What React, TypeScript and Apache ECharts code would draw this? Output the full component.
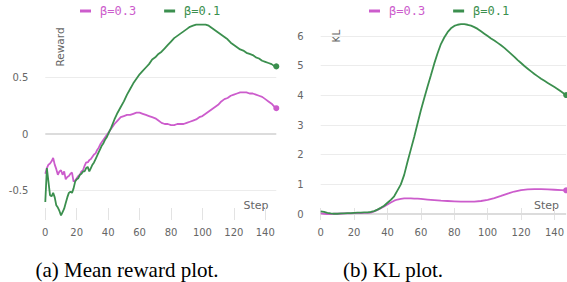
import React, { useEffect, useRef } from "react";
import * as echarts from "echarts";

const PINK = "#cc5ccc";
const GREEN = "#3b8f4e";
const SERIES_NAMES = ["β=0.3", "β=0.1"];
const STEP_TICKS = [0, 20, 40, 60, 80, 100, 120, 140];
const REWARD_TICKS = [-0.5, 0, 0.5];
const KL_TICKS = [0, 1, 2, 3, 4, 5, 6];

// Mean reward, beta = 0.3
const rewardPinkSteps = [0,1,2,3,4,5,6,7,8,9,10,11,12,13,14,15,16,17,18,19,20,21,22,23,24,25,26,27,28,29,30,31,32,33,34,35,36,37,38,39,40,42,44,46,48,50,52,54,56,58,60,62,64,66,68,70,72,74,76,78,80,82,84,86,88,90,92,94,96,98,100,102,104,106,108,110,112,114,116,118,120,122,124,126,128,130,132,134,136,138,140,142,144,146,147];
const rewardPinkValues = [-0.35,-0.30,-0.27,-0.26,-0.24,-0.21,-0.27,-0.31,-0.36,-0.33,-0.32,-0.36,-0.33,-0.40,-0.38,-0.37,-0.35,-0.34,-0.42,-0.41,-0.39,-0.37,-0.36,-0.33,-0.32,-0.28,-0.25,-0.25,-0.23,-0.22,-0.20,-0.18,-0.17,-0.14,-0.12,-0.09,-0.07,-0.05,-0.03,-0.01,0.01,0.05,0.09,0.12,0.15,0.16,0.17,0.17,0.18,0.19,0.19,0.18,0.17,0.16,0.15,0.14,0.12,0.10,0.09,0.09,0.08,0.08,0.09,0.09,0.09,0.10,0.11,0.12,0.13,0.15,0.16,0.18,0.20,0.22,0.24,0.26,0.29,0.31,0.32,0.34,0.35,0.36,0.37,0.37,0.37,0.36,0.36,0.35,0.34,0.33,0.31,0.29,0.27,0.24,0.23];

// Mean reward, beta = 0.1
const rewardGreenSteps = [0,1,2,3,4,5,6,7,8,9,10,11,12,13,14,15,16,17,18,19,20,21,22,23,24,25,26,27,28,29,30,31,32,33,34,35,36,37,38,39,40,42,44,46,48,50,52,54,56,58,60,62,64,66,68,70,72,74,76,78,80,82,84,86,88,90,92,94,96,98,100,102,104,106,108,110,112,114,116,118,120,122,124,126,128,130,132,134,136,138,140,142,144,146,147];
const rewardGreenValues = [-0.60,-0.30,-0.42,-0.54,-0.55,-0.52,-0.56,-0.63,-0.65,-0.68,-0.72,-0.69,-0.66,-0.61,-0.56,-0.52,-0.51,-0.52,-0.48,-0.42,-0.40,-0.39,-0.36,-0.35,-0.33,-0.33,-0.30,-0.29,-0.33,-0.30,-0.27,-0.25,-0.22,-0.19,-0.16,-0.13,-0.10,-0.08,-0.05,-0.03,0.0,0.06,0.13,0.19,0.24,0.29,0.35,0.40,0.45,0.49,0.53,0.56,0.59,0.62,0.66,0.68,0.71,0.73,0.76,0.79,0.82,0.85,0.87,0.89,0.91,0.93,0.95,0.96,0.97,0.97,0.97,0.97,0.96,0.94,0.92,0.90,0.88,0.86,0.84,0.81,0.79,0.77,0.75,0.74,0.72,0.71,0.70,0.68,0.67,0.65,0.64,0.63,0.62,0.60,0.60];

// KL, beta = 0.3
const klPinkSteps = [0,2,4,6,8,10,12,14,16,18,20,22,24,26,28,30,32,34,36,38,40,42,44,46,48,50,52,54,56,58,60,64,68,72,76,80,84,88,92,96,100,104,108,112,116,120,124,128,132,136,140,144,147];
const klPinkValues = [0.02,0.01,0.0,0.0,0.01,0.01,0.01,0.02,0.02,0.02,0.03,0.03,0.03,0.04,0.04,0.05,0.09,0.14,0.20,0.26,0.32,0.39,0.45,0.49,0.51,0.53,0.53,0.53,0.52,0.52,0.51,0.49,0.47,0.45,0.44,0.43,0.42,0.42,0.42,0.44,0.48,0.54,0.61,0.69,0.76,0.81,0.83,0.84,0.84,0.83,0.82,0.81,0.80];

// KL, beta = 0.1
const klGreenSteps = [0,2,4,6,8,10,12,14,16,18,20,22,24,26,28,30,32,34,36,38,40,42,44,46,48,50,52,54,56,58,60,62,64,66,68,70,72,74,76,78,80,82,84,86,88,90,92,94,96,98,100,102,104,106,108,110,112,114,116,118,120,122,124,126,128,130,132,134,136,138,140,142,144,146,147];
const klGreenValues = [0.09,0.07,0.04,0.02,0.01,0.01,0.02,0.02,0.03,0.03,0.04,0.05,0.05,0.06,0.06,0.07,0.10,0.15,0.21,0.28,0.38,0.48,0.60,0.80,1.00,1.32,1.76,2.18,2.60,3.05,3.50,3.90,4.30,4.68,5.07,5.42,5.73,5.95,6.13,6.26,6.34,6.38,6.40,6.40,6.38,6.35,6.30,6.24,6.16,6.08,6.00,5.92,5.85,5.77,5.69,5.60,5.50,5.40,5.30,5.19,5.09,4.99,4.90,4.81,4.72,4.64,4.56,4.49,4.42,4.35,4.28,4.21,4.13,4.05,4.01];

const zip = (xs: number[], ys: number[]) => xs.map((x, i) => [x, ys[i]]);

const AXIS_FONT = "DejaVu Sans";
const LABEL_COLOR = "#666";

function gridMarkLine(values: number[]) {
  return {
    silent: true,
    z: 1,
    symbol: ["none", "none"],
    label: { show: false },
    emphasis: { disabled: true },
    lineStyle: { color: "#ececec", width: 1, type: "solid" },
    data: values.map((v) =>
      v === 0
        ? { yAxis: v, lineStyle: { color: "#dcdcdc", width: 2, type: "solid" } }
        : { yAxis: v }
    ),
  };
}

function lineSeries(name: string, color: string, data: number[][], idx: number, mark?: any) {
  const last = data.length - 1;
  return {
    type: "line",
    name,
    xAxisIndex: idx,
    yAxisIndex: idx,
    data,
    z: 3,
    color,
    showSymbol: true,
    showAllSymbol: true,
    symbol: "circle",
    symbolSize: (_v: any, p: any) => (p.dataIndex === last ? 6 : 0),
    itemStyle: { color },
    lineStyle: { color, width: 1.8 },
    emphasis: { disabled: true },
    markLine: mark,
  };
}

function legendFor(left: number) {
  return {
    left,
    top: 5,
    padding: 0,
    data: SERIES_NAMES,
    icon: "rect",
    itemWidth: 11,
    itemHeight: 3,
    itemGap: 28,
    formatter: (name: string) => (name === SERIES_NAMES[0] ? `{p|${name}}` : `{g|${name}}`),
    textStyle: {
      rich: {
        p: { color: PINK, fontFamily: "DejaVu Sans Mono", fontSize: 12, padding: [0, 0, 0, 4] },
        g: { color: GREEN, fontFamily: "DejaVu Sans Mono", fontSize: 12, padding: [0, 0, 0, 4] },
      },
    },
  };
}

function xAxisFor(idx: number) {
  return {
    type: "value",
    gridIndex: idx,
    min: 0,
    max: 147,
    axisLine: { show: false, onZero: false },
    splitLine: { show: false },
    axisTick: {
      show: true,
      inside: true,
      length: 12,
      customValues: STEP_TICKS,
      lineStyle: { color: "#e3e3e3", width: 1 },
    },
    axisLabel: {
      customValues: STEP_TICKS,
      color: LABEL_COLOR,
      fontFamily: AXIS_FONT,
      fontSize: 10,
      margin: 7,
    },
  };
}

function yAxisFor(idx: number, min: number, max: number, ticks: number[]) {
  return {
    type: "value",
    gridIndex: idx,
    min,
    max,
    axisLine: { show: false, onZero: false },
    axisTick: { show: false },
    splitLine: { show: false },
    axisLabel: {
      customValues: ticks,
      color: LABEL_COLOR,
      fontFamily: AXIS_FONT,
      fontSize: 10,
      margin: 17,
    },
  };
}

export default function App() {
  const ref = useRef<HTMLDivElement>(null);
  useEffect(() => {
    if (!ref.current) return;
    const chart = echarts.init(ref.current, null, { renderer: "svg" });
    chart.setOption({
      animation: false,
      backgroundColor: "#fff",
      legend: [legendFor(80), legendFor(369)],
      grid: [
        { left: 45.3, top: 21.2, width: 231, height: 198.8 },
        { left: 320.7, top: 21.2, width: 246.3, height: 198.8 },
      ],
      xAxis: [xAxisFor(0), xAxisFor(1)],
      yAxis: [yAxisFor(0, -0.76, 1.0, REWARD_TICKS), yAxisFor(1, -0.2, 6.5, KL_TICKS)],
      series: [
        lineSeries(SERIES_NAMES[0], PINK, zip(rewardPinkSteps, rewardPinkValues), 0, gridMarkLine(REWARD_TICKS)),
        lineSeries(SERIES_NAMES[1], GREEN, zip(rewardGreenSteps, rewardGreenValues), 0),
        lineSeries(SERIES_NAMES[0], PINK, zip(klPinkSteps, klPinkValues), 1, gridMarkLine(KL_TICKS)),
        lineSeries(SERIES_NAMES[1], GREEN, zip(klGreenSteps, klGreenValues), 1),
      ],
      graphic: [
        { type: "text", x: 60, y: 47, rotation: Math.PI / 2, style: { text: "Reward", fill: LABEL_COLOR, font: `10.5px ${AXIS_FONT}`, textAlign: "center", textVerticalAlign: "middle" } },
        { type: "text", x: 336, y: 36, rotation: Math.PI / 2, style: { text: "KL", fill: LABEL_COLOR, font: `10.5px ${AXIS_FONT}`, textAlign: "center", textVerticalAlign: "middle" } },
        { type: "text", x: 256, y: 205, style: { text: "Step", fill: LABEL_COLOR, font: `11px ${AXIS_FONT}`, textAlign: "center", textVerticalAlign: "middle" } },
        { type: "text", x: 546.5, y: 205, style: { text: "Step", fill: LABEL_COLOR, font: `11px ${AXIS_FONT}`, textAlign: "center", textVerticalAlign: "middle" } },
        { type: "text", x: 35.5, y: 270, style: { text: "(a) Mean reward plot.", fill: "#000", font: `21px "Liberation Serif"`, textAlign: "left", textVerticalAlign: "middle" } },
        { type: "text", x: 343, y: 270, style: { text: "(b) KL plot.", fill: "#000", font: `21px "Liberation Serif"`, textAlign: "left", textVerticalAlign: "middle" } },
      ],
    });
    return () => chart.dispose();
  }, []);
  return (
    <div
      ref={ref}
      style={{ position: "absolute", left: 0, top: 0, width: 567, height: 282, background: "#fff" }}
    />
  );
}
